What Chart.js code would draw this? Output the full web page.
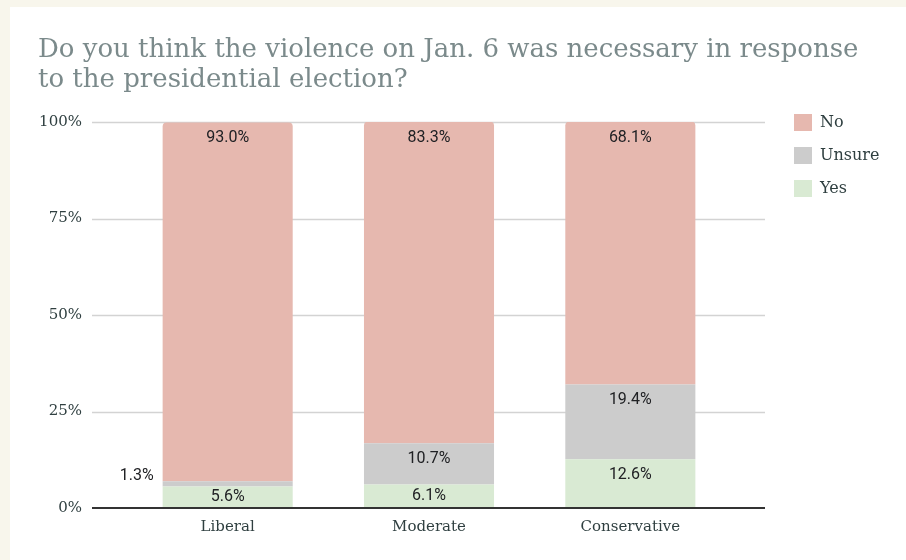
<!DOCTYPE html>
<html>
<head>
<meta charset="utf-8">
<script src="https://cdn.jsdelivr.net/npm/chart.js@4.4.1/dist/chart.umd.min.js"></script>
<style>
    html, body { margin: 0; padding: 0; background: #f8f6ec; width: 906px; height: 560px; overflow: hidden; }
    #card { position: absolute; left: 10px; top: 7px; width: 896px; height: 553px; background: #ffffff; }
</style>
</head>
<body>
<div id="card"><canvas id="myChart" width="896" height="553"></canvas></div>
<script>
const titleLines = ['Do you think the violence on Jan. 6 was necessary in response', 'to the presidential election?'];
const categories = ['Liberal', 'Moderate', 'Conservative'];
const yesValues = [5.6, 6.1, 12.6];
const unsureValues = [1.3, 10.7, 19.4];
const noValues = [93.0, 83.3, 68.1];
const yTickStep = 25;

const serif = "'DejaVu Serif', Georgia, serif";

// horizontal gridlines that run a bit past the bars on both sides
const gridPlugin = {
    id: 'wideGrid',
    beforeDatasetsDraw(chart) {
        const ctx = chart.ctx, area = chart.chartArea, y = chart.scales.y;
        ctx.save();
        ctx.strokeStyle = '#d3d3d3';
        ctx.lineWidth = 1.5;
        y.ticks.forEach(t => {
            if (t.value === 0) return;
            const py = Math.round(y.getPixelForValue(t.value)) + 0.5;
            ctx.beginPath();
            ctx.moveTo(area.left - 35, py);
            ctx.lineTo(area.right + 34, py);
            ctx.stroke();
        });
        ctx.restore();
    },
    afterDatasetsDraw(chart) {
        const ctx = chart.ctx, area = chart.chartArea, y = chart.scales.y;
        const py = y.getPixelForValue(0);
        ctx.save();
        ctx.strokeStyle = '#333333';
        ctx.lineWidth = 2;
        ctx.beginPath();
        ctx.moveTo(area.left - 35, py);
        ctx.lineTo(area.right + 34, py);
        ctx.stroke();
        ctx.restore();
    }
};

// value labels on each segment
const labelPlugin = {
    id: 'segLabels',
    afterDatasetsDraw(chart) {
        const ctx = chart.ctx;
        ctx.save();
        ctx.font = "16px Roboto, 'Noto Sans', sans-serif";
        ctx.fillStyle = '#202124';
        ctx.textBaseline = 'middle';
        chart.data.datasets.forEach((ds, i) => {
            const meta = chart.getDatasetMeta(i);
            meta.data.forEach((bar, j) => {
                const p = bar.getProps(['x', 'y', 'base', 'width'], true);
                const top = Math.min(p.y, p.base), bottom = Math.max(p.y, p.base);
                const text = ds.data[j].toFixed(1) + '%';
                if (bottom - top < 12) {
                    ctx.textAlign = 'right';
                    ctx.fillText(text, p.x - p.width / 2 - 9, (top + bottom) / 2 - 8);
                } else {
                    ctx.textAlign = 'center';
                    ctx.fillText(text, p.x, Math.min(top + 16, (top + bottom) / 2));
                }
            });
        });
        ctx.restore();
    }
};

// move the legend up beside the top of the plot
const legendPlacer = {
    id: 'legendPlacer',
    afterLayout(chart) {
        const lg = chart.legend, area = chart.chartArea;
        lg.left = area.right + 47;
        lg.right = lg.left + 140;
        lg.top = area.top - 24;
        lg.bottom = lg.top + 140;
    }
};

const ctx = document.getElementById('myChart').getContext('2d');
new Chart(ctx, {
    type: 'bar',
    data: {
        labels: categories,
        datasets: [{
            label: 'Yes',
            data: yesValues,
            backgroundColor: '#d9ead3',
            borderWidth: 0
        }, {
            label: 'Unsure',
            data: unsureValues,
            backgroundColor: '#cccccc',
            borderWidth: 0
        }, {
            label: 'No',
            data: noValues,
            backgroundColor: '#e6b8af',
            borderWidth: 0,
            borderSkipped: false,
            borderRadius: { topLeft: 4, topRight: 4, bottomLeft: 0, bottomRight: 0 }
        }]
    },
    options: {
        responsive: false,
        animation: false,
        categoryPercentage: 1,
        barPercentage: 0.646,
        layout: { padding: { left: 28, right: 0, top: 0, bottom: 0 } },
        plugins: {
            title: {
                display: true,
                text: titleLines,
                align: 'start',
                color: '#7b8a8b',
                font: { family: serif, size: 26, weight: 'normal', lineHeight: 1.154 },
                padding: { top: 28, bottom: 27 }
            },
            legend: {
                position: 'chartArea',
                align: 'start',
                reverse: true,
                labels: {
                    boxWidth: 18,
                    boxHeight: 17,
                    padding: 16,
                    color: '#2f3f40',
                    font: { family: serif, size: 16 }
                }
            },
            tooltip: { enabled: false }
        },
        scales: {
            x: {
                stacked: true,
                grid: { display: false, drawTicks: false },
                border: { display: false },
                afterFit: s => { s.height = 52; },
                ticks: {
                    padding: 10,
                    color: '#2f3f40',
                    font: { family: serif, size: 15 }
                }
            },
            y: {
                stacked: true,
                min: 0,
                max: 100,
                grid: { display: false, drawTicks: true, tickLength: 40 },
                border: { display: false },
                afterFit: s => { s.width = 89; },
                ticks: {
                    stepSize: yTickStep,
                    padding: 5,
                    color: '#2f3f40',
                    font: { family: serif, size: 15 },
                    callback: v => v + '%'
                }
            },
            spacer: {
                type: 'linear',
                position: 'right',
                grid: { display: false, drawTicks: false },
                border: { display: false },
                ticks: { display: false },
                afterFit: s => { s.width = 175; }
            }
        }
    },
    plugins: [gridPlugin, labelPlugin, legendPlacer]
});
</script>
</body>
</html>
